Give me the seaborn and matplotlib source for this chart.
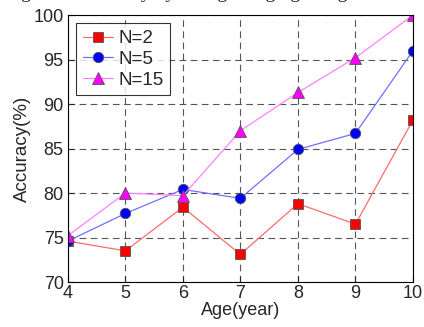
import numpy as np
import pandas as pd
import matplotlib
matplotlib.use("Agg")
import matplotlib.pyplot as plt
import seaborn as sns

ages = [4, 5, 6, 7, 8, 9, 10]
acc_n2 = [74.6, 73.5, 78.4, 73.1, 78.8, 76.5, 88.2]
acc_n5 = [74.6, 77.7, 80.4, 79.4, 84.9, 86.7, 96.0]
acc_n15 = [75.2, 80.0, 79.7, 87.0, 91.3, 95.2, 100.0]
labels = ["N=2", "N=5", "N=15"]

sns.set_style("ticks")
plt.rcParams['font.family'] = ['Liberation Sans', 'DejaVu Sans']

fig = plt.figure(figsize=(4.24, 3.27), dpi=100)
ax = fig.add_axes([0.160, 0.1376, 0.814, 0.8164])

styles = [
    (acc_n2, '#ff6a6a', 's', '#ff0000', 6.5),
    (acc_n5, '#7070ff', 'o', '#0000ff', 7.5),
    (acc_n15, '#ff80ff', '^', '#ff00ff', 8),
]
for (vals, lc, mk, fc, ms), lab in zip(styles, labels):
    df = pd.DataFrame({'Age': ages, 'Acc': vals})
    sns.lineplot(data=df, x='Age', y='Acc', ax=ax, color=lc, marker=mk,
                 markersize=ms, markerfacecolor=fc, markeredgecolor='#555555',
                 markeredgewidth=0.6, linewidth=0.9, label=lab)

ax.set_xlim(4, 10)
ax.set_ylim(70, 100)
ax.set_xticks(ages)
ax.set_yticks([70, 75, 80, 85, 90, 95, 100])
ax.grid(True, linestyle=(0, (6, 4)), color='#555555', linewidth=0.8)
ax.tick_params(direction='in', labelsize=13, length=4, pad=2)
ax.tick_params(axis='y', pad=3)
for s in ax.spines.values():
    s.set_visible(True)
    s.set_color('black')
    s.set_linewidth(0.8)
ax.set_xlabel('Age(year)', fontsize=13, labelpad=0)
ax.set_ylabel('Accuracy(%)', fontsize=13.5, labelpad=2)

leg = ax.legend(loc='upper left', fontsize=13.5, frameon=True, fancybox=False,
                borderaxespad=0.45, handlelength=1.6, labelspacing=0.2,
                borderpad=0.35, handletextpad=0.3)
leg.get_frame().set_edgecolor('black')
leg.get_frame().set_linewidth(0.8)

fig.text(0.47, 1.0 + 1.5 / 327, 'Recognition accuracy by the age ranging using N views',
         family='Liberation Serif', fontsize=14, ha='center', va='baseline',
         color='#222222')

fig.savefig('out.png', dpi=100)
